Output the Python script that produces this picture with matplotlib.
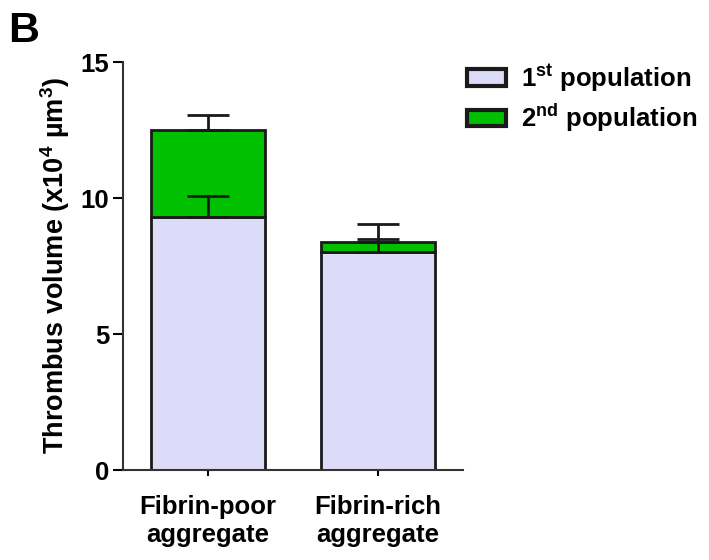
import numpy as np
import matplotlib
matplotlib.use("Agg")
import matplotlib.pyplot as plt
from matplotlib.patches import Patch

plt.rcParams["font.family"] = ["Liberation Sans", "DejaVu Sans"]
plt.rcParams["font.weight"] = "bold"
plt.rcParams["mathtext.fontset"] = "custom"
plt.rcParams["mathtext.rm"] = "Liberation Sans:bold"
plt.rcParams["mathtext.it"] = "Liberation Sans:bold"
plt.rcParams["mathtext.bf"] = "Liberation Sans:bold"

# --- data ------------------------------------------------------------------
groups = ["Fibrin-poor\naggregate", "Fibrin-rich\naggregate"]
first_pop = [9.30, 8.01]
first_err = [0.77, 0.48]
second_pop = [3.20, 0.38]
second_err = [0.55, 0.65]
yticks = [0, 5, 10, 15]

c_first = "#dcdcf8"
c_second = "#00c000"
edge = "#1a1a1a"

# --- figure ----------------------------------------------------------------
fig = plt.figure(figsize=(7.09, 5.6), dpi=100)
ax = fig.add_axes([123 / 709, 1 - 470 / 560, 340 / 709, 408 / 560])

x = np.arange(len(groups))
w = 0.665
first_pop = np.array(first_pop)
second_pop = np.array(second_pop)

ax.errorbar(x, first_pop, yerr=[np.zeros(2), first_err], fmt="none",
            ecolor=edge, elinewidth=2, capsize=15, capthick=2, zorder=3)
ax.bar(x, first_pop, w, color=c_first, edgecolor=edge, lw=2, zorder=1)
ax.bar(x, second_pop, w, bottom=first_pop, color=c_second, edgecolor=edge,
       lw=2, zorder=2)
ax.errorbar(x, first_pop + second_pop, yerr=[np.zeros(2), second_err],
            fmt="none", ecolor=edge, elinewidth=2, capsize=15, capthick=2,
            zorder=3)

ax.set_xlim(-0.5, 1.5)
ax.set_ylim(0, 15)
ax.set_yticks(yticks)
ax.set_xticks(x)
ax.set_xticklabels(groups, fontsize=18.5, fontweight="bold", linespacing=1.2)
ax.tick_params(axis="y", labelsize=18.5, width=1.5, length=7, pad=3)
ax.tick_params(axis="x", width=1.5, length=4, pad=14)
for s in ("top", "right"):
    ax.spines[s].set_visible(False)
for s in ("left", "bottom"):
    ax.spines[s].set_linewidth(1.5)
    ax.spines[s].set_color("#333333")

ax.set_ylabel(r"Thrombus volume (x10$^{4}$ µm$^{3}$)", fontsize=19.5,
              fontweight="bold", labelpad=6)

handles = [Patch(facecolor=c_first, edgecolor=edge, lw=3),
           Patch(facecolor=c_second, edgecolor=edge, lw=3)]
fig.legend(handles, [r"1$^{st}$ population", r"2$^{nd}$ population"],
           loc="upper left", bbox_to_anchor=(457 / 709, 1 - 52 / 560),
           frameon=False, fontsize=18.5, handlelength=1.5, handleheight=0.6,
           labelspacing=0.3, handletextpad=0.6, borderaxespad=0.0)

fig.text(8 / 709, 1 - 42 / 560, "B", fontsize=31, fontweight="bold")

fig.savefig("out.png", dpi=100)
